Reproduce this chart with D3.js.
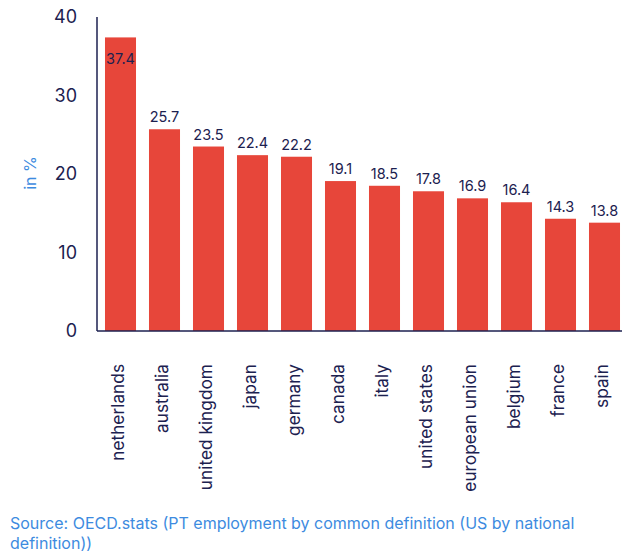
<!DOCTYPE html>
<html>
<head>
<meta charset="utf-8">
<script src="https://cdn.jsdelivr.net/npm/d3@7"></script>
<style>
  html, body { margin: 0; padding: 0; background: #fff; }
  svg { display: block; font-family: Inter, "Noto Sans", sans-serif; }
</style>
</head>
<body>
<svg id="chart" width="627" height="553"></svg>
<script>
// Part-time employment share by country
const countries = ["netherlands", "australia", "united kingdom", "japan", "germany", "canada",
                   "italy", "united states", "european union", "belgium", "france", "spain"];
const shares = [37.4, 25.7, 23.5, 22.4, 22.2, 19.1, 18.5, 17.8, 16.9, 16.4, 14.3, 13.8];
const yTicks = [0, 10, 20, 30, 40];
const yTitle = "in %";
const sourceLines = ["Source: OECD.stats (PT employment by common definition (US by national",
                     "definition))"];

const navy = "#1c2150";
const red = "#e7463a";
const blue = "#3d8be0";

const svg = d3.select("#chart");
const plotLeft = 97, plotRight = 622, plotTop = 17, plotBottom = 331;

const x = d3.scaleBand()
  .domain(countries)
  .range([98.5, 98.5 + 12 * 44])
  .paddingInner(0.295)
  .paddingOuter(0.1475);

const y = d3.scaleLinear().domain([0, 40]).range([plotBottom, plotTop]);

const data = countries.map((c, i) => ({ country: c, value: shares[i] }));

// bars
svg.append("g").selectAll("rect")
  .data(data)
  .join("rect")
  .attr("x", d => x(d.country))
  .attr("y", d => y(d.value))
  .attr("width", x.bandwidth())
  .attr("height", d => y(0) - y(d.value))
  .attr("fill", red);

// value labels: above the bar, or tucked inside when the bar reaches the top
svg.append("g").selectAll("text")
  .data(data)
  .join("text")
  .attr("x", d => x(d.country) + x.bandwidth() / 2)
  .attr("y", d => y(d.value) < 45 ? y(d.value) + 27 : y(d.value) - 7)
  .attr("text-anchor", "middle")
  .attr("font-size", 14.5)
  .attr("fill", navy)
  .text(d => d.value.toFixed(1));

// y axis
const yAxis = svg.append("g")
  .attr("transform", `translate(${plotLeft},0)`)
  .call(d3.axisLeft(y).tickValues(yTicks).tickSize(0).tickPadding(20).tickFormat(d3.format("d")));
yAxis.select(".domain").remove();
yAxis.selectAll("text")
  .attr("font-size", 18)
  .attr("font-family", "Inter, 'Noto Sans', sans-serif")
  .attr("fill", navy);

svg.append("line")
  .attr("x1", plotLeft).attr("x2", plotLeft)
  .attr("y1", plotTop).attr("y2", plotBottom)
  .attr("stroke", navy).attr("stroke-width", 1.5);
svg.append("line")
  .attr("x1", plotLeft).attr("x2", plotRight)
  .attr("y1", plotBottom).attr("y2", plotBottom)
  .attr("stroke", navy).attr("stroke-width", 1.5);

// category labels, rotated
const xAxis = svg.append("g")
  .attr("transform", `translate(0,${plotBottom})`)
  .call(d3.axisBottom(x).tickSize(0).tickPadding(0));
xAxis.select(".domain").remove();
xAxis.selectAll("text")
  .attr("font-size", 17.3)
  .attr("font-family", "Inter, 'Noto Sans', sans-serif")
  .attr("fill", navy)
  .attr("text-anchor", "end")
  .attr("y", 0)
  .attr("dy", "0.35em")
  .attr("transform", "translate(-3,33) rotate(-90)");

// y axis title
svg.append("text")
  .attr("transform", "translate(36,173) rotate(-90)")
  .attr("text-anchor", "middle")
  .attr("font-size", 16)
  .attr("fill", blue)
  .text(yTitle);

// source note
svg.append("g").selectAll("text")
  .data(sourceLines)
  .join("text")
  .attr("x", 10)
  .attr("y", (d, i) => 529 + i * 20)
  .attr("font-size", 16)
  .attr("fill", blue)
  .text(d => d);
</script>
</body>
</html>
